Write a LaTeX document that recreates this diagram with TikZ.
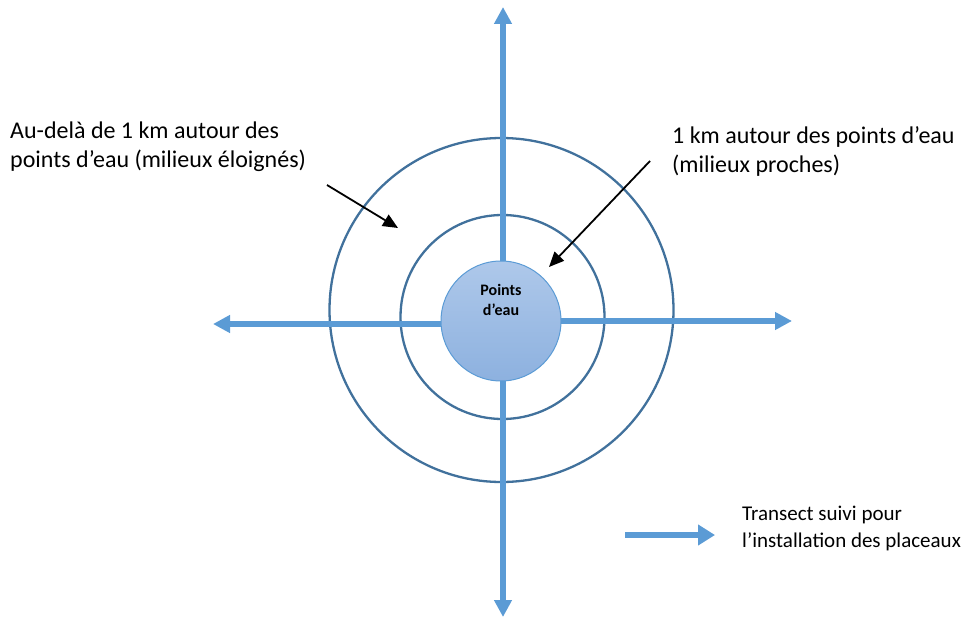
\documentclass[tikz,border=0pt]{standalone}
\usepackage{fontspec}
\setmainfont{Carlito}
\usetikzlibrary{arrows.meta,shapes,positioning}
\definecolor{ringblue}{HTML}{41719C}
\definecolor{transblue}{HTML}{5B9BD5}
\definecolor{eautop}{HTML}{AEC8EA}
\definecolor{eaubot}{HTML}{8DB1DF}

\begin{document}
\begin{tikzpicture}[x=1pt,y=-1pt,
		zone/.style={circle,draw=ringblue,line width=2.3pt,inner sep=0pt},
		transect/.style={-{Triangle[width=17pt,length=17pt]},draw=transblue,line width=6pt},
		renvoi/.style={-{Triangle[width=13pt,length=15pt]},draw=black,line width=1.8pt},
		legend/.style={align=left,anchor=north west,inner sep=0pt}]
	\useasboundingbox (0,0) rectangle (973,620);

	% the two zones
	\node[zone,minimum size=344pt] (Loin)   at (501.5,310) {};
	\node[zone,minimum size=204pt] (Proche) at (502.5,317) {};

	% transects
	\coordinate (Centre) at (503,322);
	\coordinate (Haut)   at (503,7);
	\coordinate (Bas)    at (503,617);
	\coordinate (Gauche) at (213,324);
	\coordinate (Droite) at (792,321);
	\draw[transect] (Centre) -- (Haut);
	\draw[transect] (Centre) -- (Bas);
	\draw[transect] (Centre |- Gauche) -- (Gauche);
	\draw[transect] (Centre |- Droite) -- (Droite);

	\node[circle,draw=transblue,line width=1pt,top color=eautop,bottom color=eaubot,
		minimum size=120pt,inner sep=0pt] (Eau) at (501,321) {};
	\node[font=\bfseries\fontsize{16}{20}\selectfont,align=center,inner sep=0pt,
		anchor=north] (EauTxt) [below=24pt of Eau.north] {Points\\d’eau};

	% labels
	\node[legend,font=\fontsize{24}{29}\selectfont] (LoinTxt) at (10,122)
		{Au-delà de 1 km autour des\\points d’eau (milieux éloignés)};
	\node[legend,font=\fontsize{24}{29}\selectfont] (ProcheTxt) at (672,126)
		{1 km autour des points d’eau\\(milieux proches)};
	\node[legend,font=\fontsize{21}{27}\selectfont] (LegTxt) at (742,506)
		{Transect suivi pour\\l’installation des placeaux};

	\coordinate (LoinA)   at (327,185);
	\coordinate (LoinB)   at (398,228);
	\coordinate (ProcheA) at (650,161);
	\coordinate (ProcheB) at (549,267);
	\draw[renvoi] (LoinA) -- (LoinB);
	\draw[renvoi] (ProcheA) -- (ProcheB);

	% legend arrow
	\coordinate (LegA) at (625,535);
	\coordinate (LegB) at (715,535);
	\draw[transect,-{Triangle[width=20pt,length=17pt]}] (LegA) -- (LegB);
\end{tikzpicture}
\end{document}
